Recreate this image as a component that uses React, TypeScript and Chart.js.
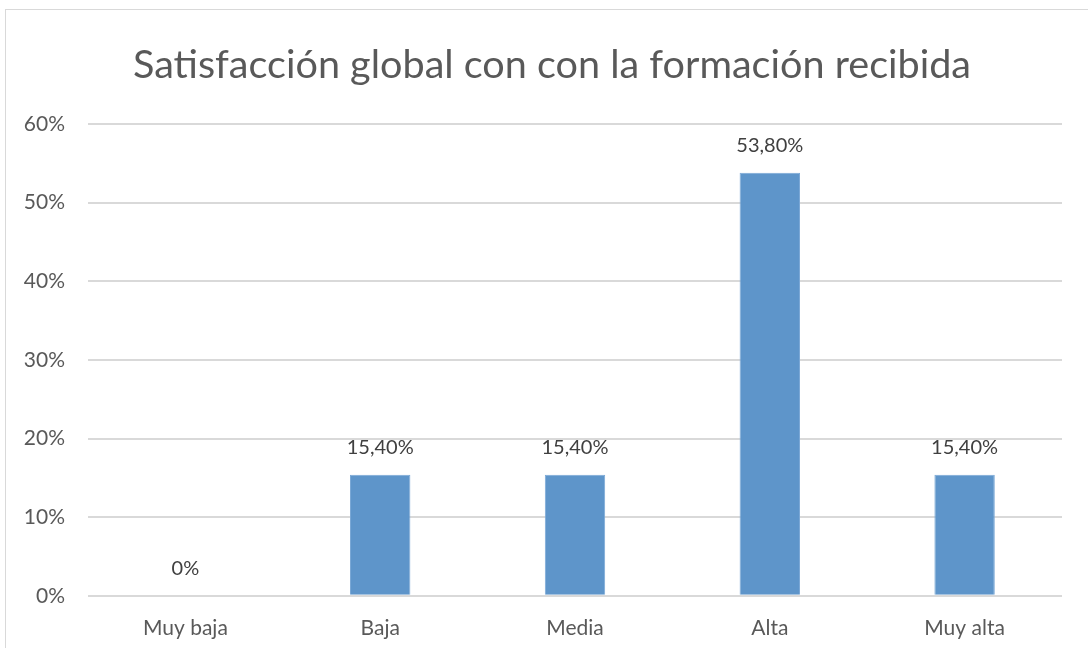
import React, { useEffect, useRef } from "react";
import { Chart, registerables } from "chart.js";

Chart.register(...registerables);

const categories = ["Muy baja", "Baja", "Media", "Alta", "Muy alta"];
const values = [0, 15.4, 15.4, 53.8, 15.4];
const valueLabels = ["0%", "15,40%", "15,40%", "53,80%", "15,40%"];
const titleText = "Satisfacción global con con la formación recibida";

const FONT = "Lato, 'Liberation Sans', sans-serif";

const dataLabelPlugin = {
  id: "dataLabels",
  afterDatasetsDraw(chart: any) {
    const ctx = chart.ctx;
    const meta = chart.getDatasetMeta(0);
    ctx.save();
    ctx.font = `20px ${FONT}`;
    ctx.fillStyle = "#404040";
    ctx.textAlign = "center";
    ctx.textBaseline = "middle";
    meta.data.forEach((bar: any, i: number) => {
      ctx.fillText(valueLabels[i], bar.x, bar.y - 27);
    });
    ctx.restore();
  },
};

const titlePlugin = {
  id: "customTitle",
  afterDraw(chart: any) {
    const ctx = chart.ctx;
    ctx.save();
    ctx.font = `39.6px ${FONT}`;
    ctx.fillStyle = "#595959";
    ctx.textAlign = "center";
    ctx.textBaseline = "middle";
    ctx.fillText(titleText, chart.width / 2, 55);
    ctx.restore();
  },
};

export default function App() {
  const ref = useRef<HTMLCanvasElement | null>(null);
  useEffect(() => {
    if (!ref.current) return;
    const chart = new Chart(ref.current, {
      type: "bar",
      data: {
        labels: categories,
        datasets: [
          {
            data: values,
            backgroundColor: "#5E95CA",
            borderColor: "#7AA8D6",
            borderWidth: 1,
            categoryPercentage: 1,
            barPercentage: 0.31,
          },
        ],
      },
      options: {
        animation: false,
        responsive: false,
        maintainAspectRatio: false,
        layout: { padding: { left: 0, right: 36, top: 114, bottom: 8 } },
        plugins: {
          legend: { display: false },
          tooltip: { enabled: false },
          title: { display: false },
        },
        scales: {
          x: {
            grid: { display: false, drawTicks: false },
            border: { display: false },
            ticks: {
              color: "#595959",
              font: { family: FONT, size: 21 },
              padding: 20,
            },
          },
          y: {
            min: 0,
            max: 60,
            afterFit: (s: any) => {
              s.width = 82;
            },
            grid: { color: "#d9d9d9", lineWidth: 2, drawTicks: false },
            border: { display: false },
            ticks: {
              stepSize: 10,
              color: "#595959",
              font: { family: FONT, size: 21 },
              padding: 23,
              callback: (v: any) => `${v}%`,
            },
          },
        },
      },
      plugins: [dataLabelPlugin, titlePlugin],
    });
    return () => chart.destroy();
  }, []);

  return (
    <div style={{ position: "fixed", left: 0, top: 0, width: 1088, height: 648, overflow: "hidden", background: "#fff" }}>
      <div
        style={{
          position: "absolute",
          left: 5,
          top: 9,
          width: 1094,
          height: 690,
          border: "1px solid #d9d9d9",
          boxSizing: "border-box",
          background: "#fff",
        }}
      >
        <canvas ref={ref} width={1092} height={659} style={{ display: "block" }} />
      </div>
    </div>
  );
}
